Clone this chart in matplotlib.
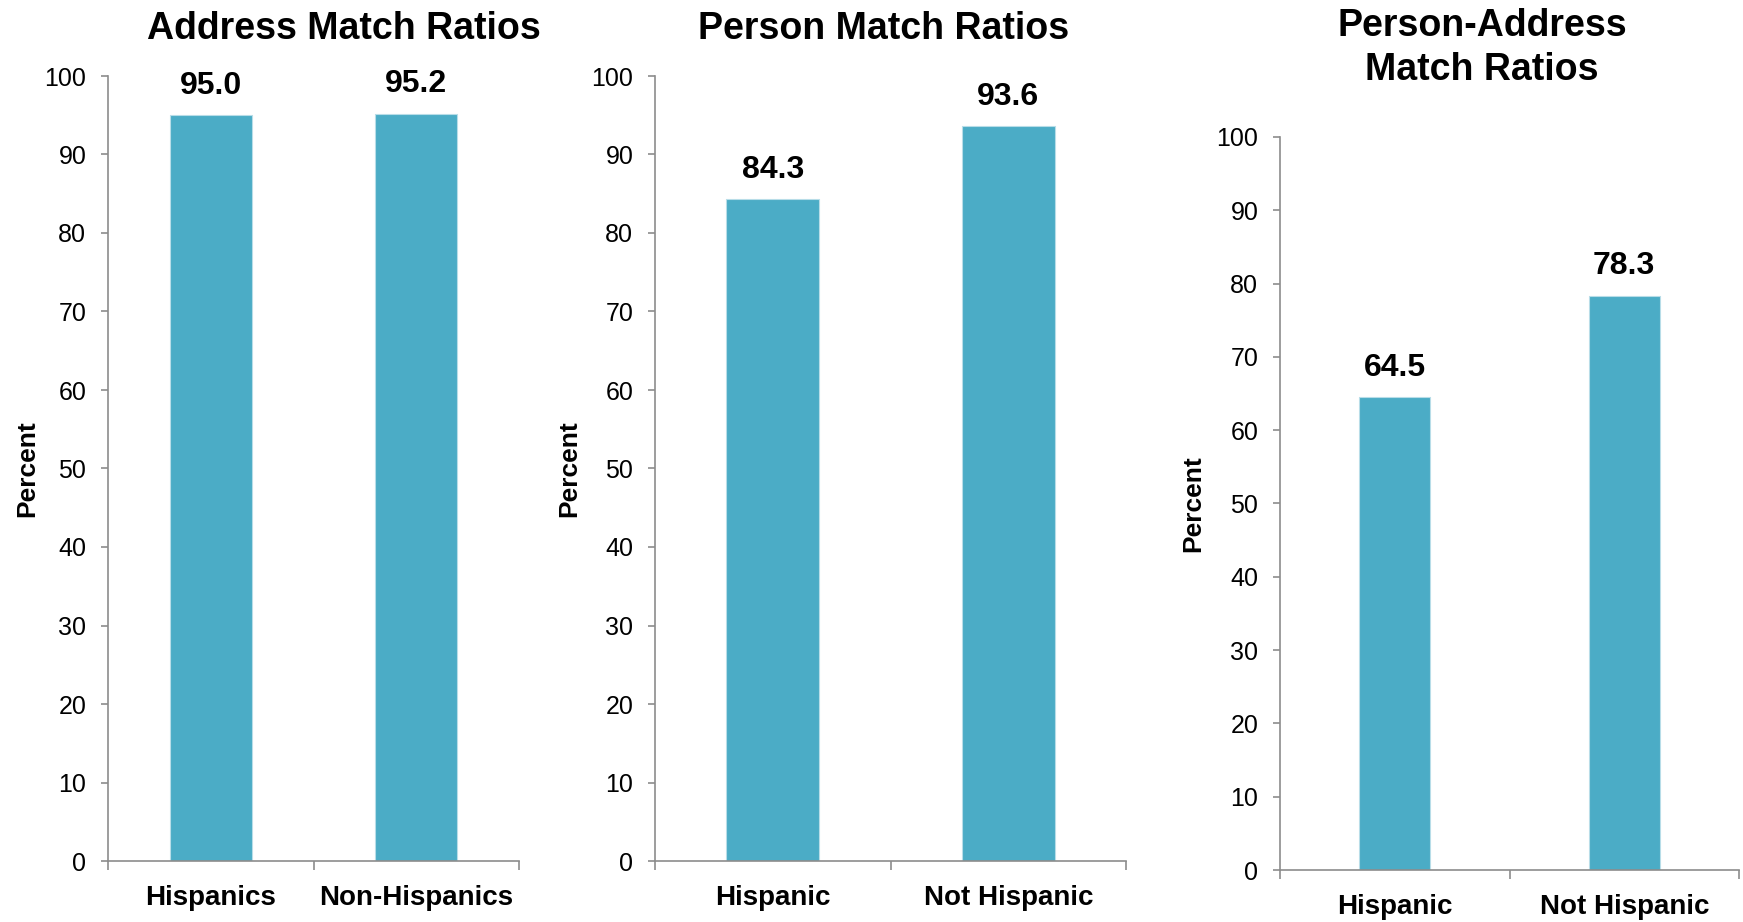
import matplotlib.pyplot as plt

plt.rcParams['font.family'] = ['Liberation Sans', 'DejaVu Sans']

# data
titles = ['Address Match Ratios', 'Person Match Ratios', 'Person-Address\nMatch Ratios']
cats_address = ['Hispanics', 'Non-Hispanics']
vals_address = [95.0, 95.2]
cats_person = ['Hispanic', 'Not Hispanic']
vals_person = [84.3, 93.6]
cats_pa = ['Hispanic', 'Not Hispanic']
vals_pa = [64.5, 78.3]
yticks = [0, 10, 20, 30, 40, 50, 60, 70, 80, 90, 100]

W, H = 1743, 922
fig = plt.figure(figsize=(W / 100, H / 100), dpi=100)

bar_color = '#4BACC6'
spine_color = '#8C8C8C'

# panel boxes in pixels: left, top(100), right, bottom(0)
boxes = [(108, 76, 519, 861), (655, 76, 1126, 861), (1280, 137, 1739, 870)]
bar_w = [0.40, 0.395, 0.31]
label_off = [69, 74, 75]
data = [(cats_address, vals_address), (cats_person, vals_person), (cats_pa, vals_pa)]
title_pos = [(344, 39), (884, 39), (1482, 37)]

for i, (box, (cats, vals)) in enumerate(zip(boxes, data)):
    l, t, r, b = box
    ax = fig.add_axes([l / W, 1 - b / H, (r - l) / W, (b - t) / H])
    x = list(range(len(cats)))
    ax.bar(x, vals, width=bar_w[i], color=bar_color, edgecolor='#B8DDE8', linewidth=0.8)
    ax.set_xlim(-0.5, len(cats) - 0.5)
    ax.set_ylim(0, 100)
    ax.set_yticks(yticks)
    ax.set_yticklabels([str(v) for v in yticks], fontsize=18)
    ax.tick_params(axis='y', direction='out', length=5, width=1.2, color=spine_color, pad=10.6)
    # category boundary ticks
    ax.set_xticks([-0.5 + k for k in range(len(cats) + 1)])
    ax.set_xticklabels([])
    ax.set_xticks(x, minor=True)
    ax.set_xticklabels(cats, minor=True, fontsize=20, fontweight='bold')
    ax.tick_params(axis='x', which='major', direction='out', length=6.5, width=1.2, color=spine_color)
    ax.tick_params(axis='x', which='minor', length=0, pad=17)
    for s in ['top', 'right']:
        ax.spines[s].set_visible(False)
    for s in ['left', 'bottom']:
        ax.spines[s].set_color(spine_color)
        ax.spines[s].set_linewidth(1.2)
    ax.set_ylabel('Percent', fontsize=19, fontweight='bold')
    ax.yaxis.set_label_coords(-label_off[i] / (r - l), 0.5)
    for xi, v in zip(x, vals):
        ax.annotate(f'{v:.1f}', (xi, v), xytext=(0, 15.6), textcoords='offset points',
                    ha='center', va='baseline', fontsize=23, fontweight='bold')
    tx, ty = title_pos[i]
    if '\n' in titles[i]:
        fig.text(tx / W, 1 - 8 / H, titles[i], ha='center', va='top',
                 fontsize=27, fontweight='bold', linespacing=1.28)
    else:
        fig.text(tx / W, 1 - ty / H, titles[i], ha='center', va='baseline',
                 fontsize=27, fontweight='bold')

fig.savefig('out.png', dpi=100)
